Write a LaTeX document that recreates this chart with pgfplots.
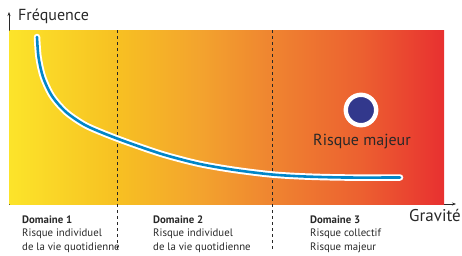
\documentclass[border=0pt]{standalone}
\usepackage{pgfplots}
\pgfplotsset{compat=1.18}
\usetikzlibrary{arrows.meta}
\usepackage{fontspec}
\setmainfont{PT Sans}
\definecolor{cA}{RGB}{252,228,42}
\definecolor{cB}{RGB}{247,192,34}
\definecolor{cC}{RGB}{243,163,46}
\definecolor{cD}{RGB}{239,133,48}
\definecolor{cE}{RGB}{236,96,48}
\definecolor{cF}{RGB}{232,48,48}
\definecolor{curveblue}{RGB}{0,134,200}
\definecolor{dotblue}{RGB}{50,56,140}
\definecolor{txt}{RGB}{40,40,40}
\pgfdeclarehorizontalshading{risk}{100bp}{color(0bp)=(cA); color(25bp)=(cA); color(37.5bp)=(cB); color(47bp)=(cC); color(55bp)=(cD); color(65.5bp)=(cE); color(75bp)=(cF); color(100bp)=(cF)}
\tikzset{lbl/.style={anchor=base west, inner sep=0pt, text=txt, font=\fontsize{10.8}{12}\selectfont}}
\begin{document}
\begin{tikzpicture}
\begin{axis}[
  x=1pt, y=1pt,
  xmin=9, xmax=456, ymin=51, ymax=243,
  axis lines=left,
  axis line style={draw=txt, line width=0.9pt, -{Stealth[length=4pt,width=3pt]}},
  xtick=\empty, ytick=\empty,
  clip=false,
]
\path (axis cs:0,0) rectangle (axis cs:462,255);
\fill[shading=risk] (axis cs:9.5,51) rectangle (axis cs:444,225);
\draw[txt, line width=0.9pt, dash pattern=on 3pt off 3pt] (axis cs:117,225) -- (axis cs:117,5);
\draw[txt, line width=0.9pt, dash pattern=on 3pt off 3pt] (axis cs:272,225) -- (axis cs:272,5);
\addplot[white, line width=6.5pt, smooth, line cap=round] coordinates {
(37,218) (38.5,198) (43,178) (52,159) (66,143) (85,130) (108,120) (135,110) (165,100) (200,91) (235,85) (272,80.5) (305,78.5) (345,77.5) (400,77.5)};
\addplot[curveblue, line width=2.6pt, smooth, line cap=round] coordinates {
(37,218) (38.5,198) (43,178) (52,159) (66,143) (85,130) (108,120) (135,110) (165,100) (200,91) (235,85) (272,80.5) (305,78.5) (345,77.5) (400,77.5)};
\addplot[only marks, mark=*, mark size=15.2pt, mark options={fill=dotblue, draw=white, line width=4.4pt}] coordinates {(361,145)};
\node[anchor=base, inner sep=0pt, text=txt, font=\fontsize{16}{18}\selectfont] at (axis cs:362,110) {Risque majeur};
\node[anchor=base west, inner sep=0pt, text=txt, font=\fontsize{16}{18}\selectfont] at (axis cs:18,235) {Fréquence};
\node[anchor=base west, inner sep=0pt, text=txt, font=\fontsize{17}{19}\selectfont] at (axis cs:409,34) {Gravité};
\node[lbl, font=\fontsize{10.8}{12}\selectfont\bfseries] at (axis cs:22,32) {Domaine 1};
\node[lbl] at (axis cs:22,18.5) {Risque individuel};
\node[lbl] at (axis cs:22,5) {de la vie quotidienne};
\node[lbl, font=\fontsize{10.8}{12}\selectfont\bfseries] at (axis cs:153,32) {Domaine 2};
\node[lbl] at (axis cs:153,18.5) {Risque individuel};
\node[lbl] at (axis cs:153,5) {de la vie quotidienne};
\node[lbl, font=\fontsize{10.8}{12}\selectfont\bfseries] at (axis cs:310,32) {Domaine 3};
\node[lbl] at (axis cs:310,18.5) {Risque collectif};
\node[lbl] at (axis cs:310,5) {Risque majeur};
\end{axis}
\end{tikzpicture}
\end{document}
